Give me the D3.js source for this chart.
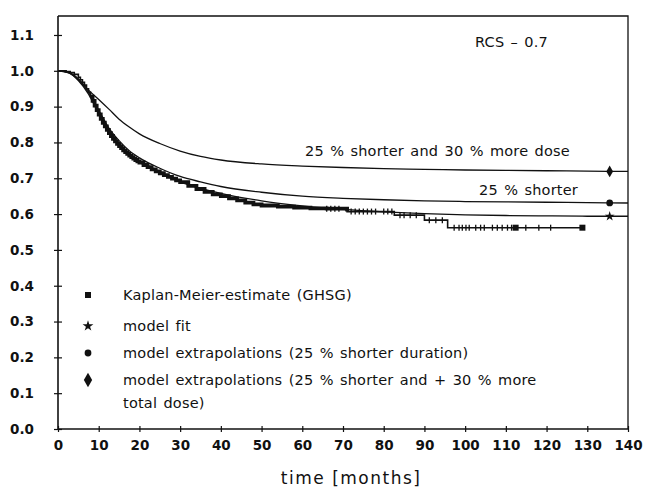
<!DOCTYPE html>
<html lang="en">
<head>
  <meta charset="utf-8" />
  <title>Survival - model extrapolations</title>
  <script src="https://cdn.jsdelivr.net/npm/d3@7"></script>
  <style>
body{ margin: 0; background: #fff; }
svg{ display: block; }
text{ font-family: "DejaVu Sans", sans-serif; fill: #111; }
.tick text{ font-weight: bold; font-size: 13.5px; }
.lbl{ font-size: 14.5px; word-spacing: 1.5px; letter-spacing: 0.2px; }
  </style>
</head>
<body>
  <svg></svg>
  <script>
  // model curves
  const months = [0, 2.5, 5, 7.5, 10, 12.5, 15, 17.5, 20, 25, 30, 35, 40, 50, 60, 70, 80, 90, 100, 110, 120, 130, 140];
  const moreDose = [1.0, 0.996, 0.978, 0.946, 0.92, 0.893, 0.865, 0.843, 0.824, 0.797, 0.776, 0.761, 0.751, 0.74, 0.734, 0.73, 0.727, 0.725, 0.723, 0.722, 0.721, 0.72, 0.719];
  const shorter = [1.0, 0.995, 0.975, 0.94, 0.89, 0.84, 0.805, 0.777, 0.757, 0.728, 0.705, 0.69, 0.677, 0.661, 0.65, 0.644, 0.64, 0.637, 0.635, 0.634, 0.633, 0.632, 0.631];
  const modelFit = [1.0, 0.995, 0.973, 0.935, 0.88, 0.83, 0.795, 0.765, 0.745, 0.715, 0.69, 0.672, 0.658, 0.637, 0.623, 0.613, 0.606, 0.601, 0.598, 0.596, 0.595, 0.594, 0.594];

  // Kaplan-Meier steps (GHSG)
  const kmTime = [0, 2, 3, 4, 5, 5.5, 6, 6.5, 7, 7.5, 8, 8.5, 9, 9.5, 10, 10.5, 11, 11.5, 12, 12.5, 13, 13.5, 14, 14.5,
                  15, 15.5, 16, 16.5, 17, 17.5, 18, 18.5, 19, 19.5, 20, 21, 22, 23, 24, 25, 26, 27, 28, 29, 30,
                  32, 34, 36, 38, 40, 42, 44, 46, 48, 50, 54, 58, 62, 66, 71, 82.6, 90, 95.7];
  const kmSurv = [1.0, 0.998, 0.995, 0.99, 0.982, 0.975, 0.968, 0.96, 0.95, 0.94, 0.928, 0.916, 0.903, 0.89, 0.878, 0.866, 0.855, 0.845, 0.835, 0.826, 0.818, 0.81, 0.803, 0.796,
                  0.79, 0.784, 0.778, 0.773, 0.768, 0.763, 0.759, 0.755, 0.751, 0.747, 0.744, 0.737, 0.731, 0.725, 0.719, 0.714, 0.709, 0.704, 0.699, 0.694, 0.689,
                  0.679, 0.67, 0.662, 0.655, 0.65, 0.644, 0.638, 0.632, 0.627, 0.624, 0.621, 0.618, 0.616, 0.615, 0.607, 0.597, 0.583, 0.562];
  const kmEnd = 128.8;
  const censored = [66, 67, 68, 69, 72, 73, 74, 75, 76, 77, 78, 80, 81, 82, 84, 85, 86.5, 88, 91.2, 92.8, 94.4,
                    97.3, 98.5, 99.3, 100.2, 101, 102.6, 103.8, 104.7, 106.7, 107.9, 109.1, 110.4, 111.4, 114.9, 118.1, 121];
  const kmSquares = [112.4, 128.8];

  const endMarkTime = 135.5;
  const yTicks = [0, 0.1, 0.2, 0.3, 0.4, 0.5, 0.6, 0.7, 0.8, 0.9, 1.0, 1.1];
  const xTicks = [0, 10, 20, 30, 40, 50, 60, 70, 80, 90, 100, 110, 120, 130, 140];

  const legendItems = [
    {sym: d3.symbolSquare, text: ['Kaplan-Meier-estimate (GHSG)']},
    {sym: d3.symbolStar, text: ['model fit']},
    {sym: d3.symbolCircle, text: ['model extrapolations (25 % shorter duration)']},
    {sym: d3.symbolDiamond, text: ['model extrapolations (25 % shorter and + 30 % more', 'total dose)']}
  ];

  const width = 648, height = 488;
  const svg = d3.select('svg').attr('width', width).attr('height', height);

  const x = d3.scaleLinear().domain([0, 140]).range([58, 628]);
  const y = d3.scaleLinear().domain([0, 1.153]).range([429, 16]);

  // frame
  svg.append('path')
      .attr('d', `M${x(0)},${y(1.153)}H${x(140)}V${y(0)}`)
      .attr('fill', 'none').attr('stroke', '#111').attr('stroke-width', 1.3);

  const yAxis = svg.append('g')
      .attr('transform', `translate(${x(0)},0)`)
      .call(d3.axisLeft(y).tickValues(yTicks).tickFormat(d3.format('.1f')).tickSize(4).tickPadding(20));
  yAxis.selectAll('.tick line').attr('x2', -4).attr('x1', 4);
  yAxis.select('.domain').attr('stroke-width', 1.6).attr('d', `M0,${y(0)}V${y(1.153)}`);

  const xAxis = svg.append('g')
      .attr('transform', `translate(0,${y(0)})`)
      .call(d3.axisBottom(x).tickValues(xTicks).tickSize(3).tickPadding(8));
  xAxis.selectAll('.tick line').attr('y1', -3).attr('y2', 3);
  xAxis.select('.domain').attr('stroke-width', 1.6).attr('d', `M${x(0)},0H${x(140)}`);
  svg.selectAll('.tick line').attr('stroke', '#111').attr('stroke-width', 1.2);
  svg.selectAll('.domain').attr('stroke', '#111');
  svg.selectAll('.tick text').attr('fill', '#111').attr('font-family', null).attr('font-size', null);

  const line = d3.line().x(d => x(d[0])).y(d => y(d[1])).curve(d3.curveMonotoneX);
  [moreDose, shorter, modelFit].forEach(vals => {
    svg.append('path')
        .datum(months.map((m, i) => [m, vals[i]]))
        .attr('d', line)
        .attr('fill', 'none').attr('stroke', '#111').attr('stroke-width', 1.3);
  });

  // Kaplan-Meier step function
  const kmPts = kmTime.map((t, i) => [t, kmSurv[i]]).concat([[kmEnd, kmSurv[kmSurv.length - 1]]]);
  const step = d3.line().x(d => x(d[0])).y(d => y(d[1])).curve(d3.curveStepAfter);
  svg.append('path').datum(kmPts).attr('d', step)
      .attr('fill', 'none').attr('stroke', '#111').attr('stroke-width', 1.6);
  // dense censoring band
  svg.append('path').datum(kmPts.filter(d => d[0] >= 8 && d[0] <= 71)).attr('d', step)
      .attr('fill', 'none').attr('stroke', '#111').attr('stroke-width', 3.8);

  const kmAt = t => kmSurv[d3.bisectRight(kmTime, t) - 1];
  svg.append('g').selectAll('line').data(censored).join('line')
      .attr('x1', d => x(d)).attr('x2', d => x(d))
      .attr('y1', d => y(kmAt(d)) - 3).attr('y2', d => y(kmAt(d)) + 3)
      .attr('stroke', '#111').attr('stroke-width', 1.3);
  svg.append('g').selectAll('path').data(kmSquares).join('path')
      .attr('transform', d => `translate(${x(d)},${y(kmAt(d))})`)
      .attr('d', d3.symbol(d3.symbolSquare, 36)).attr('fill', '#111');

  // end-of-curve markers
  const ends = [
    [d3.symbolDiamond, moreDose[moreDose.length - 1], 40],
    [d3.symbolCircle, shorter[shorter.length - 1], 36],
    [d3.symbolStar, modelFit[modelFit.length - 1], 30]
  ];
  ends.forEach(([sym, v, s]) => {
    svg.append('path')
        .attr('transform', `translate(${x(endMarkTime)},${y(v)})`)
        .attr('d', d3.symbol(sym, s)).attr('fill', '#111');
  });

  // curve labels
  svg.append('text').attr('class', 'lbl').attr('x', 475).attr('y', 47).text('RCS – 0.7');
  svg.append('text').attr('class', 'lbl').attr('x', 305).attr('y', 156).text('25 % shorter and 30 % more dose');
  svg.append('text').attr('class', 'lbl').attr('x', 479).attr('y', 195).text('25 % shorter');

  // legend
  const rowY = [295, 326, 353, 380];
  const leg = svg.append('g');
  legendItems.forEach((item, i) => {
    leg.append('path')
        .attr('transform', `translate(88,${rowY[i]})`)
        .attr('d', d3.symbol(item.sym, i === 3 ? 60 : 36)).attr('fill', '#111');
    item.text.forEach((t, j) => {
      leg.append('text').attr('class', 'lbl')
          .attr('x', 123).attr('y', rowY[i] + 5 + j * 23).text(t);
    });
  });

  svg.append('text')
      .attr('x', x(72)).attr('y', 484)
      .attr('text-anchor', 'middle')
      .attr('font-size', 17).attr('letter-spacing', 1.5)
      .text('time [months]');
  </script>
</body>
</html>
